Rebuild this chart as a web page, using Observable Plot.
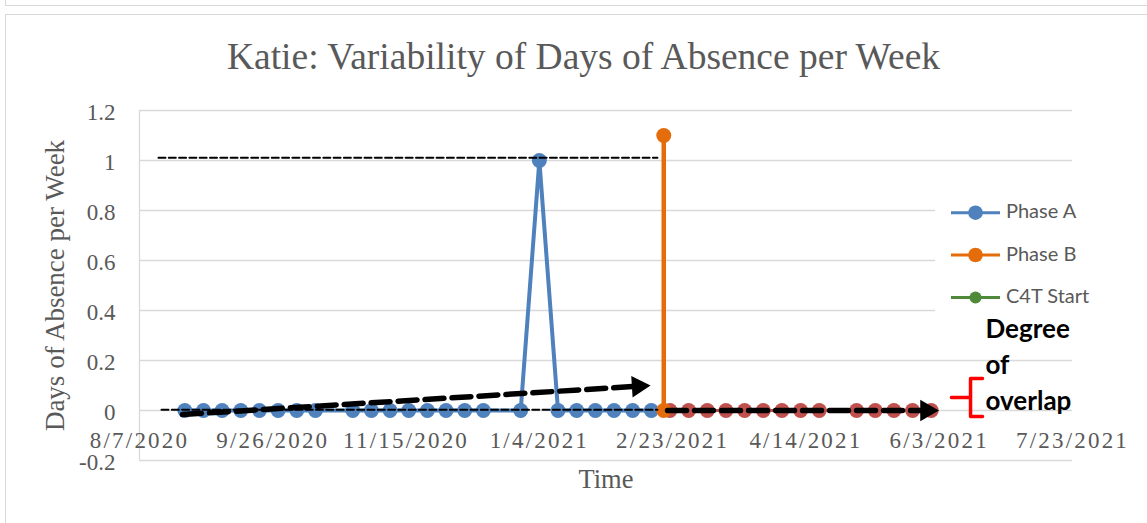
<!DOCTYPE html>
<html><head><meta charset="utf-8">
<script src="https://cdn.jsdelivr.net/npm/d3@7"></script>
<script src="https://cdn.jsdelivr.net/npm/@observablehq/plot@0.6"></script>
<style>
html,body{margin:0;padding:0;background:#fff;}
#wrap{position:relative;width:1147px;height:523px;overflow:hidden;background:#fff;}
#chart{position:absolute;left:0;top:0;}
#prev{position:absolute;left:5px;top:-10px;width:1200px;height:14px;border:1.4px solid #d9d9d9;}
#frame{position:absolute;left:5px;top:14px;width:1200px;height:600px;border:1.4px solid #d9d9d9;}
#legend{position:absolute;left:0;top:0;pointer-events:none;}
</style></head><body>
<div id="wrap">
  <div id="prev"></div>
  <div id="frame"></div>
  <div id="chart"></div>
  <svg id="legend" width="1147" height="523" font-family="Lato" font-size="20" fill="#595959">
    <rect x="935" y="186" width="145" height="132" fill="#fff"></rect>
    <g id="legend-items"></g>
  </svg>
</div>
<script>
// ---- text ----
const chartTitle = "Katie: Variability of Days of Absence per Week";
const yTitle = "Days of Absence per Week";
const xTitle = "Time";
const annotation = "Degree\nof\noverlap";
const legendLabels = ["Phase A", "Phase B", "C4T Start"];
const legendColors = ["#4F81BD", "#E46C0A", "#4E8A3A"];

// ---- axes ----
const xDomain = ["2020-08-07", "2021-07-23"];
const xTicks = ["2020-08-07","2020-09-26","2020-11-15","2021-01-04","2021-02-23","2021-04-14","2021-06-03","2021-07-23"];
const xTickLabels = ["8/7/2020","9/26/2020","11/15/2020","1/4/2021","2/23/2021","4/14/2021","6/3/2021","7/23/2021"];
const yTicks = [-0.2, 0, 0.2, 0.4, 0.6, 0.8, 1, 1.2];
const yTickLabels = ["-0.2","0","0.2","0.4","0.6","0.8","1","1.2"];

// ---- Phase A (blue) ----
const phaseADates = ["2020-08-24","2020-08-31","2020-09-07","2020-09-14","2020-09-21","2020-09-28","2020-10-05","2020-10-12",
  "2020-10-26","2020-11-02","2020-11-09","2020-11-16","2020-11-23","2020-11-30","2020-12-07","2020-12-14",
  "2020-12-28","2021-01-04","2021-01-11","2021-01-18","2021-01-25","2021-02-01","2021-02-08","2021-02-15"];
const phaseAValues = [0,0,0,0,0,0,0,0, 0,0,0,0,0,0,0,0, 0,1,0,0,0,0,0,0];

// ---- Phase B data (red) ----
const phaseBDataDates = ["2021-02-22","2021-03-01","2021-03-08","2021-03-15","2021-03-22","2021-03-29","2021-04-05","2021-04-12","2021-04-19",
  "2021-05-03","2021-05-10","2021-05-17","2021-05-24","2021-05-31"];
const phaseBDataValues = [0,0,0,0,0,0,0,0,0, 0,0,0,0,0];

// ---- Phase B change line (orange) ----
const phaseBDates = ["2021-02-19T16:00Z","2021-02-19T16:00Z"];
const phaseBValues = [0, 1.1];

// ---- drawn annotations ----
const refHighDates = ["2020-08-14T03:00Z","2021-02-17T07:00Z"];
const refHighValues = [1.011, 1.011];
const refLowDates = ["2020-08-15T06:00Z","2021-02-17T07:00Z"];
const refLowValues = [0.003, 0.003];
const trendADates = ["2020-08-23T03:00Z","2021-02-10T05:00Z"];
const trendAValues = [-0.016, 0.097];
const trendATipDate = ["2021-02-14T17:00Z"];
const trendATipValue = [0.1];
const trendBDates = ["2021-02-21T02:00Z","2021-05-29T05:00Z"];
const trendBValues = [0, 0];
const trendBTipDate = ["2021-06-02T21:00Z"];
const trendBTipValue = [0];
const braceDates = ["2021-06-19T06:00Z","2021-06-14T18:00Z","2021-06-14T18:00Z","2021-06-07T14:00Z","2021-06-14T18:00Z","2021-06-14T18:00Z","2021-06-19T06:00Z"];
const braceValues = [0.128, 0.128, 0.052, 0.052, 0.052, -0.024, -0.024];

const toRows = (ds, vs) => ds.map((d, i) => ({date: new Date(d), value: vs[i]}));
const blue = toRows(phaseADates, phaseAValues);
const red = toRows(phaseBDataDates, phaseBDataValues);
const orange = toRows(phaseBDates, phaseBValues);
const refHigh = toRows(refHighDates, refHighValues);
const refLow = toRows(refLowDates, refLowValues);
const trendA = toRows(trendADates, trendAValues);
const trendATip = toRows(trendATipDate, trendATipValue);
const trendB = toRows(trendBDates, trendBValues);
const trendBTip = toRows(trendBTipDate, trendBTipValue);
const brace = toRows(braceDates, braceValues);
const xTickDates = xTicks.map(d => new Date(d));

const chart = Plot.plot({
  width: 1147,
  height: 523,
  marginLeft: 139,
  marginRight: 75,
  marginTop: 110,
  marginBottom: 63,
  style: {background: "transparent", fontFamily: "Liberation Serif", fontSize: "23px", color: "#595959", overflow: "visible"},
  x: {type: "utc", domain: xDomain.map(d => new Date(d)), axis: null},
  y: {domain: [-0.2, 1.2], axis: null},
  marks: [
    Plot.gridY(yTicks, {stroke: "#d9d9d9", strokeOpacity: 1, strokeWidth: 1.3}),
    Plot.ruleX([new Date(xDomain[0])], {stroke: "#d9d9d9", strokeWidth: 1.3}),
    Plot.axisY(yTicks, {tickSize: 0, tickPadding: 24, dy: 2, label: null, fontSize: 23,
      tickFormat: d => yTickLabels[yTicks.indexOf(d)]}),
    Plot.text(xTickDates, {x: d => d, y: d => 0, dy: 30.6, fontSize: 23,
      text: (d, i) => xTickLabels[i]}),
    Plot.line(red, {x: "date", y: "value", stroke: "#C0504D", strokeWidth: 3}),
    Plot.dot(red, {x: "date", y: "value", r: 7.5, fill: "#C0504D"}),
    Plot.line(blue, {x: "date", y: "value", stroke: "#4F81BD", strokeWidth: 4}),
    Plot.dot(blue, {x: "date", y: "value", r: 7.5, fill: "#4F81BD"}),
    Plot.line(orange, {x: "date", y: "value", stroke: "#E46C0A", strokeWidth: 4.5}),
    Plot.dot(orange, {x: "date", y: "value", r: 7.5, fill: "#E46C0A"}),
    Plot.line(refHigh, {x: "date", y: "value", stroke: "black", strokeWidth: 2, strokeDasharray: "7,3.3"}),
    Plot.line(refLow, {x: "date", y: "value", stroke: "black", strokeWidth: 2, strokeDasharray: "7,3.3"}),
    Plot.line(trendA, {x: "date", y: "value", stroke: "black", strokeWidth: 5.5, strokeDasharray: "19,8"}),
    Plot.dot(trendATip, {x: "date", y: "value", symbol: "triangle", r: 8, fill: "black", rotate: 86.45, dx: -12.4, dy: 0.77}),
    Plot.line(trendB, {x: "date", y: "value", stroke: "black", strokeWidth: 5.5, strokeDasharray: "19,8"}),
    Plot.dot(trendBTip, {x: "date", y: "value", symbol: "triangle", r: 8, fill: "black", rotate: 90, dx: -12.4}),
    Plot.line(brace, {x: "date", y: "value", stroke: "#FF0000", strokeWidth: 3.5, strokeLinejoin: "round", strokeLinecap: "round"}),
    Plot.text([chartTitle], {frameAnchor: "top", lineAnchor: "middle", text: d => d, dx: -22.5, dy: -53.7, fontSize: 37.5}),
    Plot.text([yTitle], {frameAnchor: "left", textAnchor: "middle", lineAnchor: "middle", text: d => d, rotate: -90, dx: -84.6, fontSize: 27}),
    Plot.text([xTitle], {frameAnchor: "bottom", lineAnchor: "middle", text: d => d, dy: 19.5, fontSize: 26.5}),
    Plot.text([annotation], {frameAnchor: "top-right", text: d => d, textAnchor: "start", lineAnchor: "top",
      dx: -87, dy: 202.4, fontSize: 26, fontWeight: "bold", fontFamily: "Lato", fill: "black", lineHeight: 1.385})
  ]
});
document.getElementById("chart").appendChild(chart);

// widen x tick labels (Cambria-like spacing)
d3.select(chart).selectAll("text")
  .filter(function () { return xTickLabels.includes(this.textContent); })
  .style("letter-spacing", "2.2px");

// legend (not data)
const ns = "http://www.w3.org/2000/svg";
const items = document.getElementById("legend-items");
const legendY = [212.7, 255, 297.5];
legendLabels.forEach((lab, i) => {
  const y = legendY[i];
  const ln = document.createElementNS(ns, "line");
  ln.setAttribute("x1", 951); ln.setAttribute("x2", 1000); ln.setAttribute("y1", y); ln.setAttribute("y2", y);
  ln.setAttribute("stroke", legendColors[i]); ln.setAttribute("stroke-width", 3);
  items.appendChild(ln);
  const c = document.createElementNS(ns, "circle");
  c.setAttribute("cx", 975.5); c.setAttribute("cy", y); c.setAttribute("r", i === 2 ? 6 : 7.3);
  c.setAttribute("fill", legendColors[i]);
  items.appendChild(c);
  const t = document.createElementNS(ns, "text");
  t.setAttribute("x", 1006); t.setAttribute("y", y + 5.6);
  t.textContent = lab;
  items.appendChild(t);
});
</script>
</body></html>
